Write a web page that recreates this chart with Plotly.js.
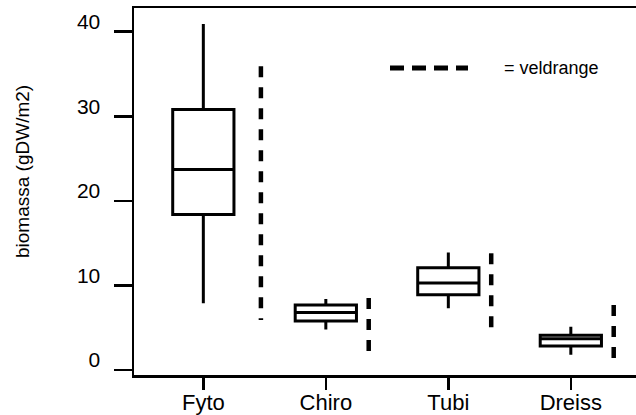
<!DOCTYPE html>
<html>
<head>
<meta charset="utf-8">
<script src="https://cdn.plot.ly/plotly-3.0.1.min.js"></script>
<style>html,body{margin:0;padding:0;background:#fff;}#chart{width:636px;height:415px;}</style>
</head>
<body>
<div id="chart"></div>
<script>
// Data
const categories = ["Fyto", "Chiro", "Tubi", "Dreiss"];
const lowerWhisker = [7.9, 4.8, 7.3, 1.8];
const q1 = [18.4, 5.8, 8.9, 2.85];
const median = [23.7, 6.8, 10.3, 3.7];
const q3 = [30.8, 7.7, 12.1, 4.1];
const upperWhisker = [40.9, 8.4, 13.9, 5.1];
const fieldRangeLow = [5.9, 2.0, 4.65, 1.2];
const fieldRangeHigh = [35.9, 8.5, 13.8, 7.7];
const yTicks = [0, 10, 20, 30, 40];
const legendLabel = "= veldrange";

// Layout constants (positions / styles)
const rangeOffset = [0.47, 0.35, 0.35, 0.35];
const FONT = "Liberation Sans, Arial, Helvetica, sans-serif";
const idx = categories.map((_, i) => i);

const traces = [{
  type: "box",
  x: idx,
  q1: q1, median: median, q3: q3,
  lowerfence: lowerWhisker, upperfence: upperWhisker,
  width: 0.5,
  whiskerwidth: 0,
  boxpoints: false,
  fillcolor: "#ffffff",
  line: {color: "#000000", width: 3},
  showlegend: false,
  hoverinfo: "skip"
}];

idx.forEach(i => {
  traces.push({
    type: "scatter", mode: "lines",
    x: [i + rangeOffset[i], i + rangeOffset[i]],
    y: [fieldRangeHigh[i], fieldRangeLow[i]],
    line: {color: "#000000", width: 4.5, dash: "11px,10px"},
    showlegend: false, hoverinfo: "skip"
  });
});

const layout = {
  width: 636, height: 415,
  margin: {l: 134, r: 0, t: 8, b: 40, pad: 0},
  paper_bgcolor: "#ffffff", plot_bgcolor: "#ffffff",
  font: {family: FONT, color: "#000000"},
  showlegend: false,
  xaxis: {
    range: [-0.566, 3.532],
    tickvals: idx, ticktext: categories,
    showgrid: false, zeroline: false,
    showline: true, mirror: true, linecolor: "#000", linewidth: 2.5,
    ticks: "outside", ticklen: 12, tickwidth: 2.5, tickcolor: "#000",
    tickfont: {family: FONT, size: 22, color: "#000"},
    ticklabelstandoff: -6
  },
  yaxis: {
    range: [-0.59, 42.8],
    tickvals: yTicks, ticktext: yTicks.map(String),
    showgrid: false, zeroline: false,
    showline: true, mirror: false, linecolor: "#000", linewidth: 2.5,
    ticks: "outside", ticklen: 18, tickwidth: 2.5, tickcolor: "#000",
    tickfont: {family: FONT, size: 21, color: "#000"},
    ticklabelstandoff: 9,
    ticklabelshift: -10
  },
  shapes: [{
    type: "line", xref: "paper", yref: "paper",
    x0: (390 - 134) / 502, x1: (468 - 134) / 502,
    y0: (375 - 68) / 367, y1: (375 - 68) / 367,
    line: {color: "#000", width: 5, dash: "14px,8px"}
  }],
  annotations: [{
    text: legendLabel, xref: "paper", yref: "paper",
    x: (502 - 134) / 502, y: (375 - 68) / 367,
    xanchor: "left", yanchor: "middle", showarrow: false,
    font: {family: FONT, size: 18, color: "#000"}
  }, {
    text: "biomassa (gDW/m2)", xref: "paper", yref: "paper",
    x: (22 - 134) / 502, y: (375 - 172) / 367,
    xanchor: "center", yanchor: "middle", showarrow: false,
    textangle: -90,
    font: {family: FONT, size: 19, color: "#000"}
  }]
};

Plotly.newPlot("chart", traces, layout, {staticPlot: true, displayModeBar: false});
</script>
</body>
</html>
